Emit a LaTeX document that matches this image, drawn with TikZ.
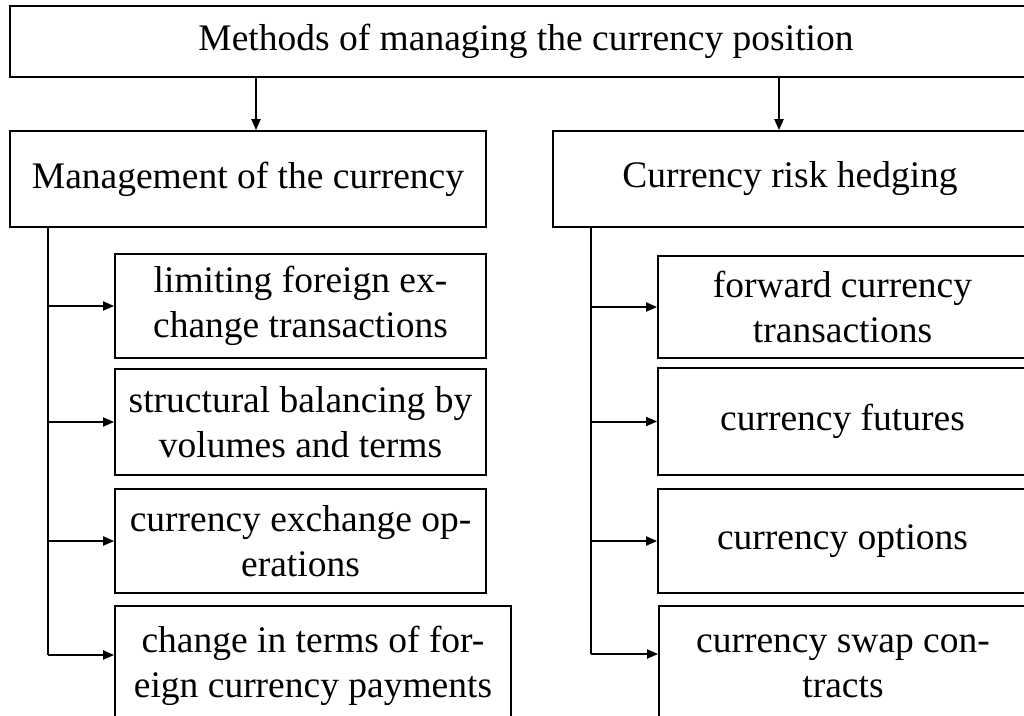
\documentclass[tikz,border=0pt]{standalone}
\usepackage{fontspec}
\setmainfont{Liberation Serif}
\usetikzlibrary{arrows.meta}

\tikzset{
  box/.style={draw=black, line width=1.8pt, rectangle, inner sep=0pt,
    align=center, font=\fontsize{37.5}{45}\selectfont},
  link/.style={draw=black, line width=2pt},
  feed/.style={link, -{Triangle[length=11pt,width=9pt]}}
}

\begin{document}
\begin{tikzpicture}[x=1pt, y=-1pt]
\useasboundingbox (0,0) rectangle (1024,715);
\begin{scope}
\clip (0,0) rectangle (1024,715);

% header
\node[box, minimum width=1032pt, minimum height=71pt] (top) at (526,41.5)
  {Methods of managing the currency position};

% two branches
\node[box, minimum width=476pt, minimum height=96pt] (mgmt) at (248,179)
  {Management of the currency};
\node[box, minimum width=474pt, minimum height=96pt] (hedge) at (790,179)
  {Currency risk hedging};

% management methods
\node[box, minimum width=371pt, minimum height=104pt] (l1) at (300.5,306)
  {limiting foreign ex-\\change transactions};
\node[box, minimum width=371pt, minimum height=106pt] (l2) at (300.5,422)
  {structural balancing by\\volumes and terms};
\node[box, minimum width=371pt, minimum height=104pt] (l3) at (300.5,541)
  {currency exchange op-\\erations};
\node[box, minimum width=396pt, minimum height=120pt] (l4) at (313,666)
  {change in terms of for-\\eign currency payments};

% hedging instruments
\node[box, minimum width=369pt, minimum height=102pt] (r1) at (842.5,307)
  {forward currency\\transactions};
\node[box, minimum width=369pt, minimum height=107pt] (r2) at (842.5,421.5)
  {currency futures};
\node[box, minimum width=369pt, minimum height=104pt] (r3) at (842.5,541)
  {currency options};
\node[box, minimum width=368pt, minimum height=120pt] (r4) at (843,666)
  {currency swap con-\\tracts};

% trunk positions
\coordinate (tl) at (48,0);
\coordinate (tr) at (591,0);
\coordinate (al) at (256,0);
\coordinate (ar) at (779,0);

% header to branches
\draw[feed] (top.south -| al) -- (mgmt.north -| al);
\draw[feed] (top.south -| ar) -- (hedge.north -| ar);

% left trunk and its arrows
\draw[link] (mgmt.south -| tl) -- ([yshift=11pt]l4.west -| tl);
\draw[feed] (l1.west -| tl) -- (l1.west);
\draw[feed] (l2.west -| tl) -- (l2.west);
\draw[feed] (l3.west -| tl) -- (l3.west);
\draw[feed] ([yshift=11pt]l4.west -| tl) -- ([yshift=11pt]l4.west);

% right trunk and its arrows
\draw[link] (hedge.south -| tr) -- ([yshift=12pt]r4.west -| tr);
\draw[feed] (r1.west -| tr) -- (r1.west);
\draw[feed] (r2.west -| tr) -- (r2.west);
\draw[feed] (r3.west -| tr) -- (r3.west);
\draw[feed] ([yshift=12pt]r4.west -| tr) -- ([yshift=12pt]r4.west);
\end{scope}
\end{tikzpicture}
\end{document}
